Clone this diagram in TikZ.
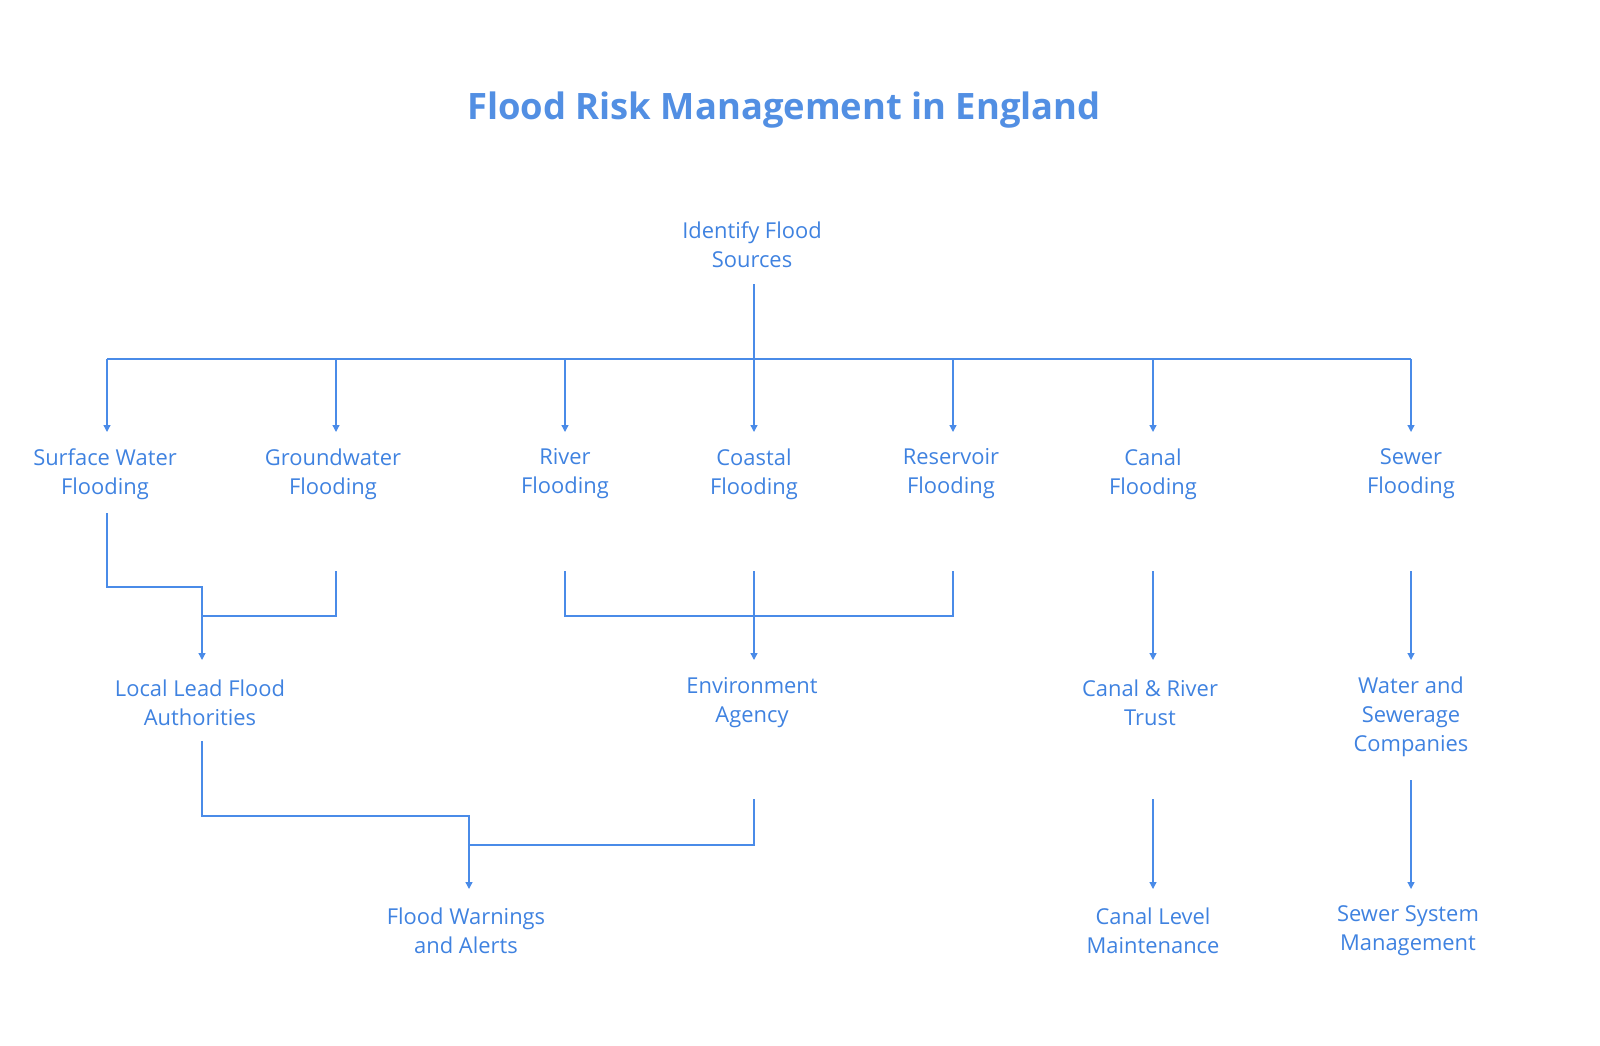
\documentclass[tikz,border=0pt]{standalone}
\usepackage{fontspec}
\setmainfont{Open Sans}
\usetikzlibrary{arrows.meta}
\definecolor{lc}{HTML}{4A8BE8}
\definecolor{tc}{HTML}{3F82E0}
\begin{document}
\begin{tikzpicture}[x=1bp,y=-1bp,
  lbl/.style={text=tc,align=center,font=\fontsize{22}{29}\selectfont},
  ln/.style={draw=lc,line width=1.3pt},
  ar/.style={ln,-{Triangle[length=7pt,width=7pt]}}]
\useasboundingbox (0,0) rectangle (1600,1045);
\node[text=tc!90!white,font=\bfseries\fontsize{36.5}{44}\selectfont] (title) at (784,110) {Flood Risk Management in England};
\node[lbl] (src) at (752,245) {Identify Flood\\Sources};
\node[lbl] (sw) at (105,474) {Surface Water\\Flooding};
\node[lbl] (gw) at (333,474) {Groundwater\\Flooding};
\node[lbl] (rv) at (565,474) {River\\Flooding};
\node[lbl] (co) at (754,474) {Coastal\\Flooding};
\node[lbl] (rs) at (951,474) {Reservoir\\Flooding};
\node[lbl] (ca) at (1153,474) {Canal\\Flooding};
\node[lbl] (se) at (1411,474) {Sewer\\Flooding};
\node[lbl] (ll) at (200,703) {Local Lead Flood\\Authorities};
\node[lbl] (ea) at (752,703) {Environment\\Agency};
\node[lbl] (crt) at (1150,703) {Canal \& River\\Trust};
\node[lbl] (ws) at (1411,717) {Water and\\Sewerage\\Companies};
\node[lbl] (fw) at (466,931) {Flood Warnings\\and Alerts};
\node[lbl] (clm) at (1153,931) {Canal Level\\Maintenance};
\node[lbl] (ssm) at (1408,931) {Sewer System\\Management};
% coordinates
\coordinate (s0) at (754,284);
\coordinate (sb) at (754,359);
\foreach \n/\x in {sw/107,gw/336,rv/565,co/754,rs/953,ca/1153,se/1411}{
  \coordinate (t\n) at (\x,432);
  \coordinate (h\n) at (\x,359);
}
\draw[ln] (s0) -- (sb);
\draw[ln] (hsw) -- (hse);
\foreach \n in {sw,gw,rv,co,rs,ca,se}{\draw[ar] (h\n) -- (t\n);}
\coordinate (b1) at (107,513); \coordinate (b2) at (336,571);
\coordinate (b3) at (565,571); \coordinate (b4) at (754,571);
\coordinate (b5) at (953,571); \coordinate (b6) at (1153,571);
\coordinate (b7) at (1411,571);
\coordinate (a1) at (202,660); \coordinate (a2) at (754,660);
\coordinate (a3) at (1153,660); \coordinate (a4) at (1411,660);
\draw[ar] (b1) -- (107,587) -- (202,587) -- (a1);
\draw[ln] (b2) -- (336,616) -- (202,616);
\draw[ln] (b3) -- (565,616) -- (953,616) -- (b5);
\draw[ar] (b4) -- (a2);
\draw[ar] (b6) -- (a3);
\draw[ar] (b7) -- (a4);
\coordinate (c1) at (202,741); \coordinate (c2) at (754,799);
\coordinate (c3) at (1153,799); \coordinate (c4) at (1411,780);
\coordinate (d1) at (469,889); \coordinate (d3) at (1153,889); \coordinate (d4) at (1411,889);
\draw[ar] (c1) -- (202,816) -- (469,816) -- (d1);
\draw[ln] (c2) -- (754,845) -- (469,845);
\draw[ar] (c3) -- (d3);
\draw[ar] (c4) -- (d4);
\end{tikzpicture}
\end{document}
